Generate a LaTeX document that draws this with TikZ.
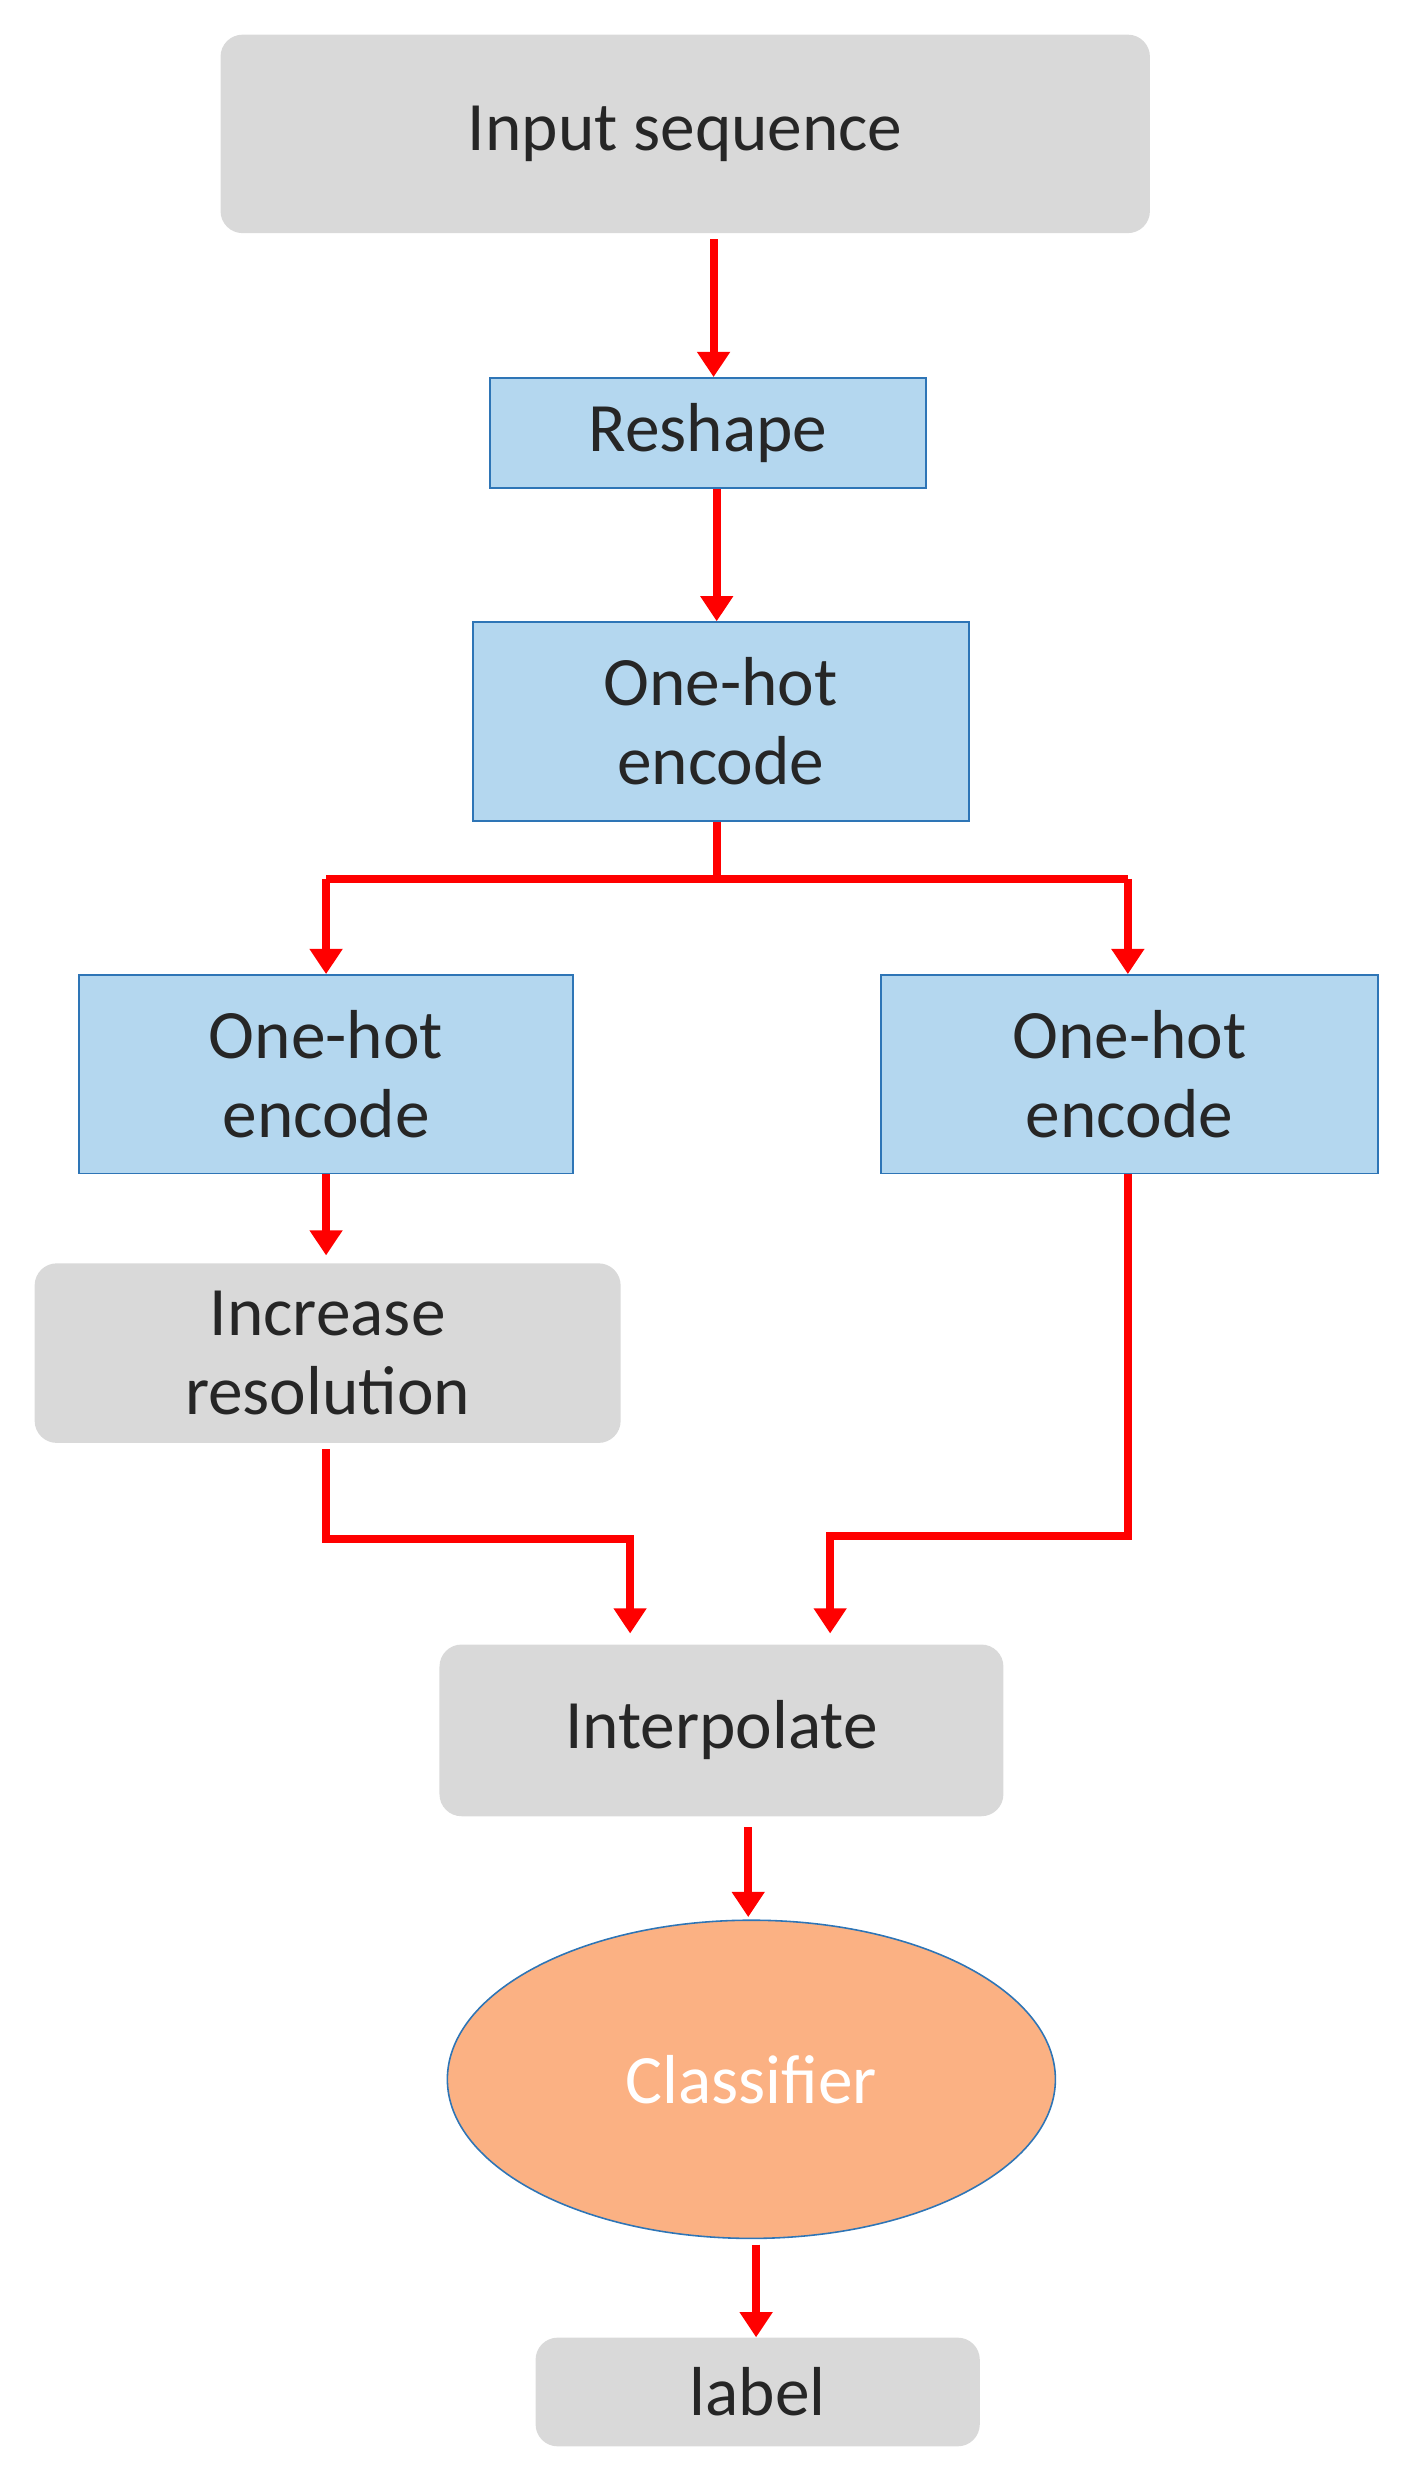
\documentclass[tikz,border=0pt]{standalone}
\usepackage{fontspec}
\setmainfont{Carlito}
\usetikzlibrary{arrows.meta,shapes.geometric}
\definecolor{gbox}{HTML}{D9D9D9}
\definecolor{bbox}{HTML}{B4D7EF}
\definecolor{bline}{HTML}{2E75B6}
\definecolor{orng}{HTML}{FBB183}
\definecolor{arr}{HTML}{FF0000}
\begin{document}
\begin{tikzpicture}[x=1pt,y=-1pt,
  txt/.style={font=\fontsize{44}{50}\selectfont, align=center, text=black!85},
  graybox/.style={txt, fill=gbox, rounded corners=14pt, inner sep=0pt},
  bluebox/.style={txt, fill=bbox, draw=bline, line width=1.2pt, inner sep=0pt},
  conn/.style={draw=arr, line width=5pt, -{Triangle[length=16pt,width=20pt]}},
  seg/.style={draw=arr, line width=5pt}]
\useasboundingbox (0,0) rectangle (893,1582);
\node[graybox, minimum width=590pt, minimum height=126pt] (inp) at (435,85) {Input sequence};
\node[bluebox, minimum width=277pt, minimum height=70pt] (resh) at (449.5,275) {Reshape};
\node[bluebox, minimum width=315pt, minimum height=126pt] (oh) at (457.5,458) {One-hot\\encode};
\node[bluebox, minimum width=314pt, minimum height=126pt] (ohl) at (207,682) {One-hot\\encode};
\node[bluebox, minimum width=316pt, minimum height=126pt] (ohr) at (717,682) {One-hot\\encode};
\node[graybox, minimum width=372pt, minimum height=114pt] (inc) at (208,859) {Increase\\resolution};
\node[graybox, minimum width=358pt, minimum height=109pt] (intp) at (458,1098.5) {Interpolate};
\node[ellipse, fill=orng, draw=bline, line width=1pt, minimum width=386pt, minimum height=202pt, txt, text=white] (cls) at (477,1320) {Classifier};
\node[graybox, minimum width=282pt, minimum height=69pt] (lab) at (481,1518.5) {label};
\coordinate (j1) at (455,558);
\coordinate (j1l) at (207,558);
\coordinate (j1r) at (716,558);
\coordinate (j2l) at (207,977);
\coordinate (j2la) at (400,977);
\coordinate (j2r) at (716,975);
\coordinate (j2ra) at (527,975);
\draw[conn] (453,152) -- (resh.north -| 453,0);
\draw[conn] (resh.south -| 455,0) -- (oh.north -| 455,0);
\draw[seg] (oh.south -| j1) -- (j1);
\draw[seg, line join=miter] (j1l) -- (j1r);
\draw[conn] (j1l) -- (ohl.north -| j1l);
\draw[conn] (j1r) -- (ohr.north -| j1r);
\draw[conn] (ohl.south) -- (207,797);
\draw[conn] (207,920) -- (j2l) -- (j2la) -- (400,1037);
\draw[conn] (ohr.south -| j2r) -- (j2r) -- (j2ra) -- (527,1037);
\draw[conn] (475,1160) -- (475,1217);
\draw[conn] (480,1425) -- (lab.north -| 480,0);
\end{tikzpicture}
\end{document}
